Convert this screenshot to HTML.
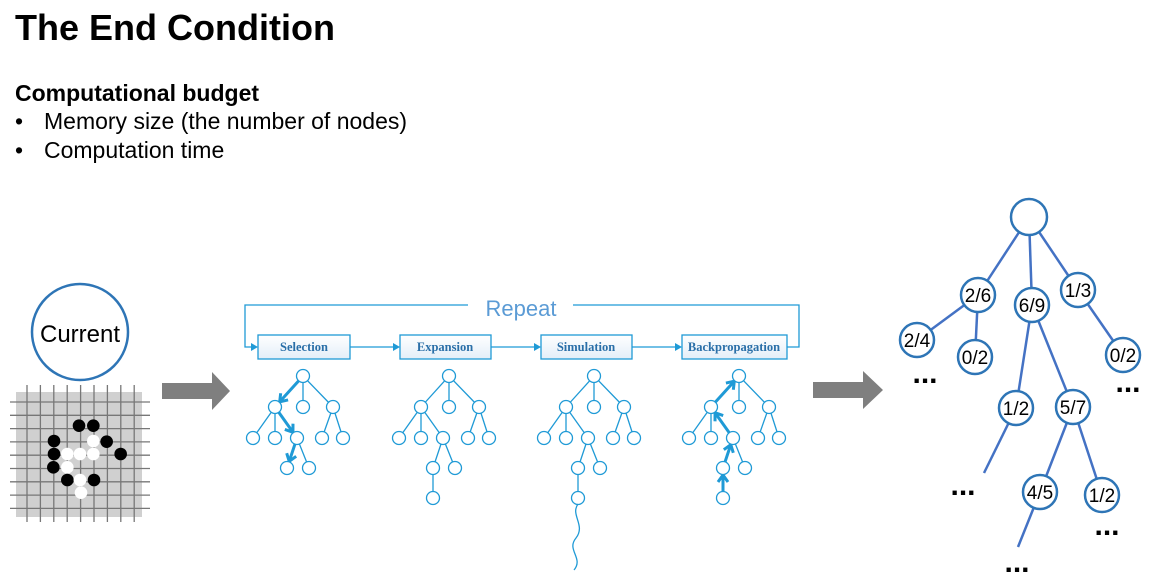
<!DOCTYPE html>
<html><head><meta charset="utf-8"><style>
body{margin:0;width:1151px;height:581px;background:#fff;overflow:hidden;font-family:"Liberation Sans",Arial,sans-serif}
svg{position:absolute;left:0;top:0}
</style></head><body>
<svg id="s" width="1151" height="581" xmlns="http://www.w3.org/2000/svg">
<text x="15" y="40" font-size="36" font-weight="bold" fill="#000">The End Condition</text>
<text x="15" y="101" font-size="23" font-weight="bold">Computational budget</text>
<text x="15" y="129" font-size="23">•</text><text x="44" y="129" font-size="23">Memory size (the number of nodes)</text>
<text x="15" y="158" font-size="23">•</text><text x="44" y="158" font-size="23">Computation time</text>

<circle cx="80" cy="332" r="48" fill="#fff" stroke="#2e75b6" stroke-width="2.5"/>
<text x="80" y="342" font-size="24" text-anchor="middle">Current</text>
<rect x="16" y="392" width="126" height="125" fill="#d0d0d0"/>
<g id="grid" stroke="#777" stroke-width="1.3"></g>
<g id="stones"></g>
<polygon points="162,383 212,383 212,372 230,391 212,410 212,399 162,399" fill="#7f7f7f"/>
<polygon points="813,382 863,382 863,371 883,390 863,409 863,398 813,398" fill="#7f7f7f"/>

<g stroke="#1f9ad6" stroke-width="1.3" fill="none">
<polyline points="468,305 245,305 245,347 252,347"/>
<polyline points="573,305 799,305 799,347 787,347"/>
<line x1="350" y1="347" x2="394" y2="347"/>
<line x1="491" y1="347" x2="535" y2="347"/>
<line x1="632" y1="347" x2="676" y2="347"/>
</g>
<g fill="#1f9ad6">
<polygon points="258,347 251,343 251,351"/><polygon points="400,347 393,343 393,351"/>
<polygon points="541,347 534,343 534,351"/><polygon points="682,347 675,343 675,351"/>
</g>
<text x="521" y="316" font-size="22" fill="#5b9bd5" text-anchor="middle">Repeat</text>
<defs><linearGradient id="bg" x1="0" y1="0" x2="0" y2="1"><stop offset="0" stop-color="#fff"/><stop offset="1" stop-color="#e3eef8"/></linearGradient></defs>
<g stroke="#1f9ad6" stroke-width="1.3" fill="url(#bg)">
<rect x="258" y="335" width="92" height="24"/><rect x="400" y="335" width="91" height="24"/>
<rect x="541" y="335" width="91" height="24"/><rect x="682" y="335" width="105" height="24"/>
</g>
<g font-family="Liberation Serif,serif" font-weight="bold" font-size="12.5" fill="#2a6fa8" text-anchor="middle">
<text x="304" y="351">Selection</text><text x="445" y="351">Expansion</text>
<text x="586" y="351">Simulation</text><text x="734" y="351">Backpropagation</text>
</g>
<g id="trees"></g>
<path d="M578,504 C570,515 586,525 576,538 C566,550 584,558 574,570" stroke="#1f9ad6" stroke-width="1.3" fill="none"/>

<g stroke="#4472c4" stroke-width="2.5">
<line x1="1029" y1="217" x2="978" y2="295"/><line x1="1029" y1="217" x2="1032" y2="305"/><line x1="1029" y1="217" x2="1078" y2="290"/>
<line x1="978" y1="295" x2="917" y2="340"/><line x1="978" y1="295" x2="975" y2="357"/>
<line x1="1078" y1="290" x2="1123" y2="355"/>
<line x1="1032" y1="305" x2="1016" y2="408"/><line x1="1032" y1="305" x2="1073" y2="407"/>
<line x1="1016" y1="408" x2="984" y2="473"/>
<line x1="1073" y1="407" x2="1040" y2="492"/><line x1="1073" y1="407" x2="1102" y2="495"/>
<line x1="1040" y1="492" x2="1018" y2="547"/>
</g>
<g fill="#fff" stroke="#2e75b6" stroke-width="2.5">
<circle cx="1029" cy="217" r="18"/>
<circle cx="978" cy="295" r="17"/><circle cx="1032" cy="305" r="17"/><circle cx="1078" cy="290" r="17"/>
<circle cx="917" cy="340" r="17"/><circle cx="975" cy="357" r="17"/><circle cx="1123" cy="355" r="17"/>
<circle cx="1016" cy="408" r="17"/><circle cx="1073" cy="407" r="17"/>
<circle cx="1040" cy="492" r="17"/><circle cx="1102" cy="495" r="17"/>
</g>
<g font-size="19" text-anchor="middle">
<text x="978" y="302">2/6</text><text x="1032" y="312">6/9</text><text x="1078" y="297">1/3</text>
<text x="917" y="347">2/4</text><text x="975" y="364">0/2</text><text x="1123" y="362">0/2</text>
<text x="1016" y="415">1/2</text><text x="1073" y="414">5/7</text>
<text x="1040" y="499">4/5</text><text x="1102" y="502">1/2</text>
</g>
<g font-size="30" font-weight="bold" text-anchor="middle">
<text x="925" y="383">...</text><text x="1128" y="392">...</text><text x="963" y="495">...</text>
<text x="1107" y="535">...</text><text x="1017" y="572">...</text>
</g>
</svg>
<script>
var NS="http://www.w3.org/2000/svg";
function el(p,t,a){var e=document.createElementNS(NS,t);for(var k in a)e.setAttribute(k,a[k]);p.appendChild(e);return e;}
var g=document.getElementById('grid');
for(var i=0;i<9;i++){var x=27+i*13.4;el(g,'line',{x1:x,y1:385,x2:x,y2:522});var y=402+i*13.3;el(g,'line',{x1:10,y1:y,x2:150,y2:y});}
var st=document.getElementById('stones');
var B=[[237,437],[280,437],[162,483],[320,485],[162,522],[362,522],[160,562],[202,600],[282,600]];
var W=[[280,483],[202,522],[240,522],[280,522],[202,562],[240,600],[243,638]];
B.forEach(function(p){el(st,'circle',{cx:p[0]/3,cy:280+p[1]/3,r:6.3,fill:'#000'});});
W.forEach(function(p){el(st,'circle',{cx:p[0]/3,cy:280+p[1]/3,r:6.3,fill:'#fff'});});
var tr=document.getElementById('trees');
var roots=[303,449,594,739];
roots.forEach(function(R,ti){
 var N={r:[R,376],a:[R-28,407],b:[R,407],c:[R+30,407],d:[R-50,438],e:[R-28,438],f:[R-6,438],g:[R+19,438],h:[R+40,438],i:[R-16,468],j:[R+6,468]};
 var E=[['r','a'],['r','b'],['r','c'],['a','d'],['a','e'],['a','f'],['c','g'],['c','h'],['f','i'],['f','j']];
 if(ti>0){N.k=[R-16,498];E.push(['i','k']);}
 E.forEach(function(e){el(tr,'line',{x1:N[e[0]][0],y1:N[e[0]][1],x2:N[e[1]][0],y2:N[e[1]][1],stroke:'#1f9ad6','stroke-width':1.3});});
 var arr=[];
 if(ti==0)arr=[['r','a'],['a','f'],['f','i']];
 if(ti==3)arr=[['k','i'],['i','f'],['f','a'],['a','r']];
 arr.forEach(function(e){var p=N[e[0]],q=N[e[1]];var dx=q[0]-p[0],dy=q[1]-p[1],L=Math.sqrt(dx*dx+dy*dy);var ux=dx/L,uy=dy/L;
  var x1=p[0]+ux*6,y1=p[1]+uy*6,x2=q[0]-ux*7,y2=q[1]-uy*7;
  el(tr,'line',{x1:x1,y1:y1,x2:x2,y2:y2,stroke:'#1f9ad6','stroke-width':3});
  var hx=x2-ux*7,hy=y2-uy*7;
  el(tr,'polyline',{points:(hx-uy*5)+','+(hy+ux*5)+' '+x2+','+y2+' '+(hx+uy*5)+','+(hy-ux*5),stroke:'#1f9ad6','stroke-width':3,fill:'none'});});
 for(var k in N)el(tr,'circle',{cx:N[k][0],cy:N[k][1],r:6.5,fill:'#fff',stroke:'#1f9ad6','stroke-width':1.3});
});
</script>
</body></html>
